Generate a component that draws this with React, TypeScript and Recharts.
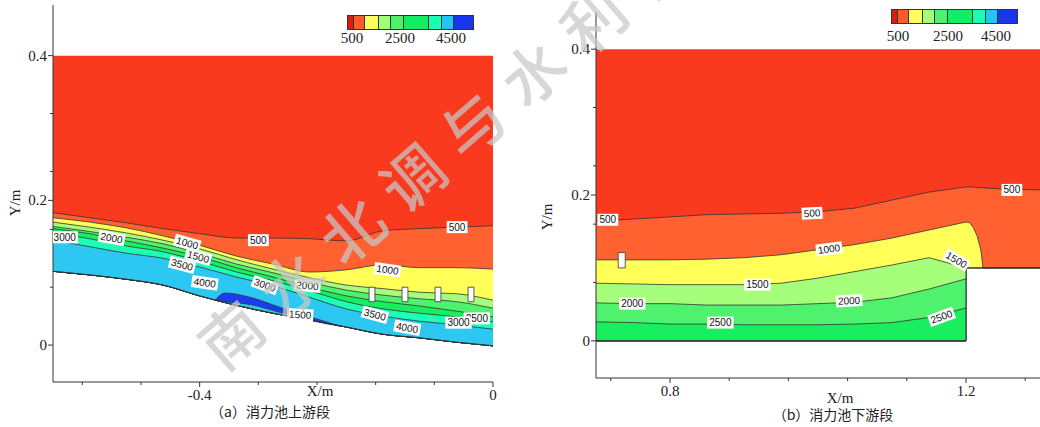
import React from 'react';
import { Area, ComposedChart, Line, ReferenceArea, Scatter, XAxis, YAxis } from 'recharts';

// ---- panel (a): upstream of stilling basin ----
const xA = [-0.6, -0.55, -0.5, -0.45, -0.4, -0.35, -0.3, -0.25, -0.2, -0.15, -0.1, -0.05, 0];
const bedA = [0.102, 0.097, 0.091, 0.083, 0.068, 0.055, 0.044, 0.035, 0.025, 0.015, 0.01, 0.004, -0.001];
const c500A = [0.183, 0.176, 0.169, 0.161, 0.154, 0.148, 0.148, 0.147, 0.144, 0.158, 0.161, 0.163, 0.165];
const c1000A = [0.176, 0.17, 0.162, 0.151, 0.138, 0.123, 0.112, 0.101, 0.104, 0.111, 0.107, 0.107, 0.105];
const c1500A = [0.17, 0.163, 0.155, 0.145, 0.133, 0.118, 0.105, 0.093, 0.083, 0.078, 0.073, 0.071, 0.062];
const c2000A = [0.164, 0.157, 0.149, 0.14, 0.127, 0.112, 0.1, 0.087, 0.076, 0.069, 0.064, 0.06, 0.051];
const c2500A = [0.161, 0.154, 0.144, 0.134, 0.122, 0.107, 0.094, 0.08, 0.068, 0.06, 0.054, 0.047, 0.039];
const c3000A = [0.155, 0.147, 0.137, 0.129, 0.116, 0.101, 0.089, 0.075, 0.06, 0.05, 0.044, 0.039, 0.032];
const c3500A = [0.145, 0.136, 0.127, 0.12, 0.108, 0.094, 0.082, 0.066, 0.05, 0.04, 0.033, 0.028, 0.022];
const surfA = 0.4;

// high-velocity pocket (>4000) near the bed
const blobX = [-0.379, -0.365, -0.331, -0.29, -0.249, -0.208];
const blobTop = [0.062, 0.072, 0.066, 0.052, 0.039, 0.026];
const blobBot = [0.062, 0.06, 0.056, 0.045, 0.034, 0.026];

const baffleXA = [-0.165, -0.12, -0.075, -0.03];
const baffleYA = [0.06, 0.08];

const tagsA = [
  { x: -0.32, y: 0.145, t: '500', a: 0 },
  { x: -0.049, y: 0.163, t: '500', a: 0 },
  { x: -0.417, y: 0.141, t: '1000', a: 15 },
  { x: -0.144, y: 0.104, t: '1000', a: 8 },
  { x: -0.402, y: 0.122, t: '1500', a: 15 },
  { x: -0.263, y: 0.042, t: '1500', a: 3 },
  { x: -0.52, y: 0.148, t: '2000', a: 10 },
  { x: -0.253, y: 0.082, t: '2000', a: 5 },
  { x: -0.584, y: 0.149, t: '3000', a: 0 },
  { x: -0.311, y: 0.083, t: '3000', a: 20 },
  { x: -0.022, y: 0.037, t: '2500', a: 0 },
  { x: -0.047, y: 0.031, t: '3000', a: 0 },
  { x: -0.424, y: 0.111, t: '3500', a: 15 },
  { x: -0.161, y: 0.042, t: '3500', a: 15 },
  { x: -0.393, y: 0.086, t: '4000', a: 8 },
  { x: -0.117, y: 0.024, t: '4000', a: 10 },
];

// ---- panel (b): downstream of stilling basin ----
const xB = [0.7, 0.75, 0.8, 0.85, 0.9, 0.95, 1.0, 1.05, 1.1, 1.15, 1.2, 1.2, 1.205, 1.21, 1.215, 1.22, 1.223, 1.25, 1.3];
const bedB = [0, 0, 0, 0, 0, 0, 0, 0, 0, 0, 0, 0.1, 0.1, 0.1, 0.1, 0.1, 0.1, 0.1, 0.1];
const c500B = [0.164, 0.167, 0.17, 0.173, 0.174, 0.175, 0.177, 0.182, 0.193, 0.204, 0.211, 0.211, 0.211, 0.211, 0.21, 0.21, 0.21, 0.208, 0.207];
const c1000B = [0.111, 0.111, 0.111, 0.112, 0.114, 0.118, 0.125, 0.132, 0.141, 0.152, 0.163, 0.163, 0.162, 0.155, 0.144, 0.125, 0.1, 0.1, 0.1];
const c1500B = [0.079, 0.078, 0.077, 0.077, 0.077, 0.079, 0.086, 0.095, 0.104, 0.114, 0.1];
const c2000B = [0.052, 0.051, 0.051, 0.049, 0.049, 0.049, 0.051, 0.053, 0.059, 0.071, 0.085];
const c2500B = [0.026, 0.025, 0.023, 0.023, 0.022, 0.022, 0.022, 0.023, 0.025, 0.032, 0.045];
const surfB = 0.4;

const baffleXB = [0.73, 0.7395];
const baffleYB = [0.1, 0.121];

const tagsB = [
  { x: 0.716, y: 0.166, t: '500', a: 0 },
  { x: 0.992, y: 0.175, t: '500', a: -3 },
  { x: 1.262, y: 0.207, t: '500', a: 0 },
  { x: 1.015, y: 0.126, t: '1000', a: -8 },
  { x: 0.918, y: 0.077, t: '1500', a: 0 },
  { x: 1.187, y: 0.111, t: '1500', a: 30 },
  { x: 0.749, y: 0.051, t: '2000', a: 0 },
  { x: 1.042, y: 0.055, t: '2000', a: -3 },
  { x: 0.868, y: 0.025, t: '2500', a: 0 },
  { x: 1.167, y: 0.033, t: '2500', a: -20 },
];

const bandColors = ['#f93a1e', '#ff6230', '#ffff58', '#a6ff7a', '#4ff26c', '#18ee60', '#1effb6', '#2cc8f2', '#1a3cf0'];
const legendColors = ['#d81e10', '#ff5a2a', '#ffff5c', '#a2ff76', '#4ef06c', '#14ec62', '#18ffb4', '#22c4fa', '#1836ee'];
const legendWidths = [5, 10, 13, 11, 12, 24, 12, 11, 19];
const legendLabels = ['500', '2500', '4500'];

const serif = "'Times New Roman', 'Liberation Serif', 'Noto Serif', 'DejaVu Serif', serif";
const cjk = "'Noto Sans CJK SC', sans-serif";
const ink = '#333';

const rowsA = xA.map((x, i) => ({
  x, bed: bedA[i], c500: c500A[i], c1000: c1000A[i], c1500: c1500A[i],
  c2000: c2000A[i], c2500: c2500A[i], c3000: c3000A[i], c3500: c3500A[i],
}));
const blobRows = blobX.map((x, i) => ({ x, lo: blobBot[i], hi: blobTop[i] }));
const rowsB = xB.map((x, i) => ({ x, bed: bedB[i], c500: c500B[i], c1000: c1000B[i] }));
const lowRowsB = c1500B.map((v, i) => ({ x: xB[i], bed: bedB[i], c1500: v, c2000: c2000B[i], c2500: c2500B[i] }));

const near = (a: number, b: number) => Math.abs(a - b) < 1e-6;

function makeTick(axis: 'x' | 'y', majors: number[]) {
  return (props: any) => {
    const { x, y, payload } = props;
    const v = payload.value;
    const major = majors.some((m) => near(m, v));
    const label = near(v, 0) ? '0' : String(Math.round(v * 10) / 10);
    if (axis === 'y') {
      return (
        <g>
          <line x1={x} x2={x - (major ? 5 : 3)} y1={y} y2={y} stroke={ink} />
          {major && (
            <text x={x - 6} y={y} dy={5} textAnchor="end" style={{ fontFamily: serif, fontSize: 15 }} fill="#222">{label}</text>
          )}
        </g>
      );
    }
    return (
      <g>
        <line x1={x} x2={x} y1={y} y2={y + (major ? 5 : 3)} stroke={ink} />
        {major && (
          <text x={x} y={y + 18} textAnchor="middle" style={{ fontFamily: serif, fontSize: 15 }} fill="#222">{label}</text>
        )}
      </g>
    );
  };
}

const ContourTag = (props: any) => {
  const { cx, cy, payload } = props;
  if (cx == null || cy == null) return null;
  const w = payload.t.length * 5.6 + 4;
  return (
    <g transform={`translate(${cx},${cy}) rotate(${payload.a})`}>
      <rect x={-w / 2} y={-6} width={w} height={12} fill="#fff" />
      <text textAnchor="middle" dy={3.5} style={{ fontSize: 10, fontFamily: "'Liberation Sans', Arial, sans-serif" }} fill="#111">{payload.t}</text>
    </g>
  );
};

function ColorBar({ left, top, labelTop, offsets }: { left: number; top: number; labelTop: number; offsets: number[] }) {
  return (
    <>
      <div style={{ position: 'absolute', left, top, display: 'flex', height: 13, border: `1px solid ${ink}` }}>
        {legendColors.map((c, i) => (
          <div key={i} style={{ width: legendWidths[i], background: c, borderLeft: i ? `1px solid ${ink}` : 'none' }} />
        ))}
      </div>
      {legendLabels.map((t, i) => (
        <div key={t} style={{ position: 'absolute', left: left + offsets[i], top: labelTop, transform: 'translate(-50%,-50%)', fontFamily: serif, fontSize: 15, color: '#222', lineHeight: 1 }}>{t}</div>
      ))}
    </>
  );
}

function Txt({ x, y, children, rot = 0, size = 15, font = serif }: any) {
  return (
    <div style={{ position: 'absolute', left: x, top: y, transform: `translate(-50%,-50%) rotate(${rot}deg)`, fontFamily: font, fontSize: size, color: '#222', whiteSpace: 'nowrap', lineHeight: 1 }}>
      {children}
    </div>
  );
}

const bandStroke = { stroke: ink, strokeWidth: 0.8 };

function PanelA() {
  const levels = ['c500', 'c1000', 'c1500', 'c2000', 'c2500', 'c3000', 'c3500'];
  return (
    <ComposedChart width={520} height={427} data={rowsA} margin={{ top: 5, right: 27, bottom: 15, left: 13 }}>
      <XAxis type="number" dataKey="x" domain={[-0.6, 0]} allowDataOverflow height={30}
        ticks={[-0.56, -0.48, -0.4, -0.32, -0.24, -0.16, -0.08, 0]} tickSize={0} tickMargin={0}
        tickLine={false} axisLine={{ stroke: ink }} tick={makeTick('x', [-0.4, 0])} interval={0} />
      <YAxis type="number" domain={[-0.051, 0.47]} allowDataOverflow width={40}
        ticks={[0, 0.08, 0.16, 0.2, 0.24, 0.32, 0.4]} tickSize={0} tickMargin={0}
        tickLine={false} axisLine={{ stroke: ink }} tick={makeTick('y', [0, 0.2, 0.4])} interval={0} />
      <Area type="monotone" dataKey={(d: any) => [d.bed, surfA]} fill={bandColors[0]} fillOpacity={1} stroke="none" isAnimationActive={false} />
      {levels.map((k, i) => (
        <Area key={k} type="monotone" dataKey={(d: any) => [d.bed, d[k]]} fill={bandColors[i + 1]} fillOpacity={1} {...bandStroke} isAnimationActive={false} />
      ))}
      <Area type="monotone" data={blobRows} dataKey={(d: any) => [d.lo, d.hi]} fill={bandColors[8]} fillOpacity={1} {...bandStroke} isAnimationActive={false} />
      <Line type="monotone" dataKey="bed" stroke={ink} strokeWidth={1} dot={false} isAnimationActive={false} />
      {baffleXA.map((x) => (
        <ReferenceArea key={x} x1={x - 0.004} x2={x + 0.004} y1={baffleYA[0]} y2={baffleYA[1]} fill="#fff" fillOpacity={1} stroke={ink} strokeWidth={0.8} ifOverflow="visible" />
      ))}
      <Scatter data={tagsA} dataKey="y" shape={ContourTag} isAnimationActive={false} />
    </ComposedChart>
  );
}

function PanelB() {
  return (
    <ComposedChart width={520} height={427} data={rowsB} margin={{ top: 12, right: 0, bottom: 19, left: 36 }}>
      <XAxis type="number" dataKey="x" domain={[0.7, 1.3]} allowDataOverflow height={30}
        ticks={[0.72, 0.8, 0.88, 0.96, 1.04, 1.12, 1.2, 1.28]} tickSize={0} tickMargin={0}
        tickLine={false} axisLine={{ stroke: ink }} tick={makeTick('x', [0.8, 1.2])} interval={0} />
      <YAxis type="number" domain={[-0.051, 0.451]} allowDataOverflow width={40}
        ticks={[0, 0.08, 0.16, 0.2, 0.24, 0.32, 0.4]} tickSize={0} tickMargin={0}
        tickLine={false} axisLine={{ stroke: ink }} tick={makeTick('y', [0, 0.2, 0.4])} interval={0} />
      <Area type="linear" dataKey={(d: any) => [d.bed, surfB]} fill={bandColors[0]} fillOpacity={1} stroke="none" isAnimationActive={false} />
      <Area type="linear" dataKey={(d: any) => [d.bed, d.c500]} fill={bandColors[1]} fillOpacity={1} {...bandStroke} isAnimationActive={false} />
      <Area type="linear" dataKey={(d: any) => [d.bed, d.c1000]} fill={bandColors[2]} fillOpacity={1} {...bandStroke} isAnimationActive={false} />
      <Area type="linear" data={lowRowsB} dataKey={(d: any) => [d.bed, d.c1500]} fill={bandColors[3]} fillOpacity={1} {...bandStroke} isAnimationActive={false} />
      <Area type="linear" data={lowRowsB} dataKey={(d: any) => [d.bed, d.c2000]} fill={bandColors[4]} fillOpacity={1} {...bandStroke} isAnimationActive={false} />
      <Area type="linear" data={lowRowsB} dataKey={(d: any) => [d.bed, d.c2500]} fill={bandColors[5]} fillOpacity={1} {...bandStroke} isAnimationActive={false} />
      <Line type="linear" dataKey="bed" stroke={ink} strokeWidth={1} dot={false} isAnimationActive={false} />
      <ReferenceArea x1={baffleXB[0]} x2={baffleXB[1]} y1={baffleYB[0]} y2={baffleYB[1]} fill="#fff" fillOpacity={1} stroke={ink} strokeWidth={0.8} ifOverflow="visible" />
      <Scatter data={tagsB} dataKey="y" shape={ContourTag} isAnimationActive={false} />
    </ComposedChart>
  );
}

export default function App() {
  return (
    <div style={{ position: 'absolute', left: 0, top: 0, width: 1040, height: 427, overflow: 'hidden', background: '#fff' }}>
      <div style={{ position: 'absolute', left: 0, top: 0 }}><PanelA /></div>
      <div style={{ position: 'absolute', left: 520, top: 0 }}><PanelB /></div>
      <ColorBar left={347} top={15} labelTop={38} offsets={[5, 53, 104]} />
      <ColorBar left={891} top={9} labelTop={36} offsets={[7, 57, 105]} />
      <Txt x={15} y={203} rot={-90}>Y/m</Txt>
      <Txt x={547} y={217} rot={-90}>Y/m</Txt>
      <Txt x={320} y={391}>X/m</Txt>
      <Txt x={840} y={398}>X/m</Txt>
      <Txt x={270} y={411} font={cjk} size={14}>（a）消力池上游段</Txt>
      <Txt x={833} y={414} font={cjk} size={14}>（b）消力池下游段</Txt>
      <div style={{ position: 'absolute', left: 198, top: 292, transformOrigin: '32px 40px', transform: 'rotate(-41deg)', fontFamily: cjk, fontSize: 62, lineHeight: '80px', letterSpacing: 18, color: 'rgba(200,200,200,0.72)', whiteSpace: 'nowrap', pointerEvents: 'none', fontWeight: 500 }}>
        南水北调与水利科技
      </div>
    </div>
  );
}
